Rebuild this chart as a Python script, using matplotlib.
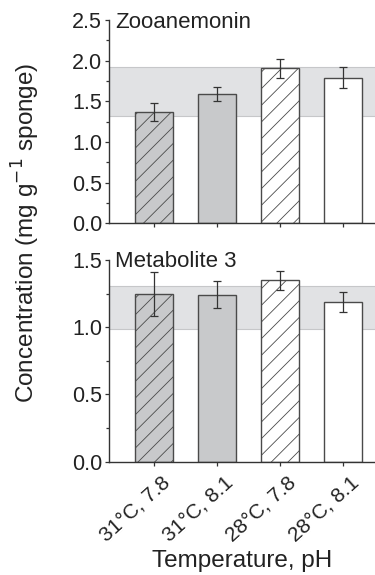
import numpy as np
import matplotlib.pyplot as plt
from matplotlib.transforms import ScaledTranslation

plt.rcParams['font.family'] = ['Liberation Sans', 'DejaVu Sans']
plt.rcParams['hatch.linewidth'] = 0.6

labels = ["31°C, 7.8", "31°C, 8.1", "28°C, 7.8", "28°C, 8.1"]

zoo_mean = [1.37, 1.59, 1.91, 1.79]
zoo_lo = [1.26, 1.51, 1.79, 1.67]
zoo_hi = [1.48, 1.68, 2.02, 1.92]
zoo_band = (1.32, 1.925)

met_mean = [1.25, 1.24, 1.35, 1.19]
met_lo = [1.08, 1.14, 1.28, 1.11]
met_hi = [1.41, 1.34, 1.42, 1.26]
met_band = (0.985, 1.307)

fills = ["#c8c9cb", "#c8c9cb", "white", "white"]
hatches = ["//", "", "//", ""]
edge = "#4a4a4a"
fs = 15.5

fig = plt.figure(figsize=(3.75, 5.75), dpi=100)
ax1 = fig.add_axes([0.291, 0.612, 0.709, 0.353])
ax2 = fig.add_axes([0.291, 0.197, 0.709, 0.351])


def panel(ax, mean, lo, hi, band, ymax, major, title):
    x = np.arange(len(mean))
    ax.axhspan(band[0], band[1], color="#e1e2e4", zorder=0, lw=0)
    ax.axhline(band[0], color="#c6c7c9", lw=0.8, zorder=0)
    ax.axhline(band[1], color="#c6c7c9", lw=0.8, zorder=0)
    for i in x:
        ax.bar(i, mean[i], width=0.6, color=fills[i], edgecolor=edge,
               hatch=hatches[i], linewidth=1.0, zorder=2)
    yerr = [np.array(mean) - np.array(lo), np.array(hi) - np.array(mean)]
    ax.errorbar(x, mean, yerr=yerr, fmt="none", ecolor="#333333",
                elinewidth=0.9, capsize=3, capthick=0.9, zorder=3)
    ax.set_xlim(-0.71, 3.51)
    ax.set_ylim(0, ymax)
    ax.set_yticks(np.arange(0, ymax + 0.01, major))
    ax.set_yticks(np.arange(0, ymax + 0.01, 0.25), minor=True)
    ax.yaxis.set_major_formatter(plt.FormatStrFormatter("%.1f"))
    ax.set_xticks(x)
    for s in ["top", "right"]:
        ax.spines[s].set_visible(False)
    for s in ["left", "bottom"]:
        ax.spines[s].set_color("#333333")
        ax.spines[s].set_linewidth(1.0)
    ax.tick_params(axis="both", which="both", direction="out", color="#333333",
                   labelcolor="#222222", labelsize=fs, width=0.9, pad=2)
    ax.tick_params(axis="y", which="major", length=3)
    ax.tick_params(axis="y", which="minor", length=2)
    ax.tick_params(axis="x", length=3)
    ax.text(0.023, 0.99, title, transform=ax.transAxes, fontsize=fs + 0.5,
            va="center", ha="left", color="#222222")


panel(ax1, zoo_mean, zoo_lo, zoo_hi, zoo_band, 2.5, 0.5, "Zooanemonin")
panel(ax2, met_mean, met_lo, met_hi, met_band, 1.5, 0.5, "Metabolite 3")

ax1.set_xticklabels([])
ax2.set_xticklabels(labels, rotation=42, ha="right", rotation_mode="anchor",
                    fontsize=15)
shift = ScaledTranslation(7 / 100, -4 / 100, fig.dpi_scale_trans)
for lab in ax2.get_xticklabels():
    lab.set_transform(lab.get_transform() + shift)
fig.text(0.645, 1 - 561 / 575, "Temperature, pH", ha="center", va="center",
         fontsize=17.5, color="#222222")
fig.text(0.069, 0.595, "Concentration (mg g$^{-1}$ sponge)", rotation=90,
         ha="center", va="center", fontsize=17.5, color="#222222")

fig.savefig("out.png", dpi=100)
